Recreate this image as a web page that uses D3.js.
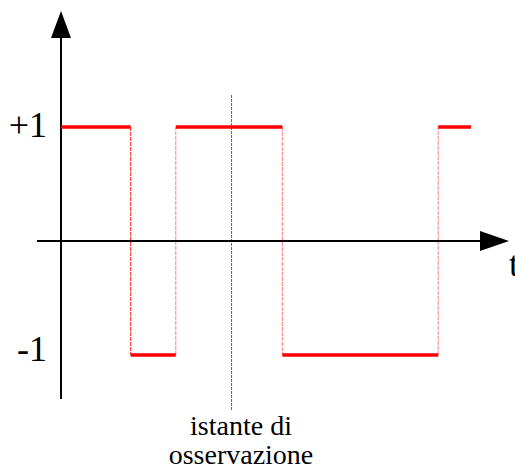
<!DOCTYPE html>
<html>
<head>
<meta charset="utf-8">
<script src="https://cdn.jsdelivr.net/npm/d3@7"></script>
<style>
  html, body { margin: 0; padding: 0; background: #fff; }
  svg { display: block; }
  text { font-family: "Liberation Serif", "Times New Roman", serif; fill: #000; }
</style>
</head>
<body>
<svg id="chart" width="515" height="468"></svg>
<script>
// switching instants (arbitrary time units) and the level held after each one
var times = [0, 17, 28, 54, 92, 100];
var levels = [1, -1, 1, -1, 1];
var levelLabels = ["+1", "-1"];
var levelTicks = [1, -1];
var observation = 41.6;
var obsLabel = ["istante di", "osservazione"];
var axisLabel = "t";

var svg = d3.select("#chart");

// scales
var x = d3.scaleLinear().domain([0, 100]).range([61, 471]);
var y = d3.scaleLinear().domain([-1, 1]).range([355, 127]);

// segments built from the data
var segs = levels.map(function(l, i){
	return {t0: times[i], t1: times[i + 1], level: l};
});

// vertical switching lines (thin, dashed pinkish)
var edges = [];
for (var i = 1; i < levels.length; i++) {
	edges.push({t: times[i], from: levels[i - 1], to: levels[i]});
}
svg.selectAll(".edge")
	.data(edges)
	.enter().append("line")
	.attr("class", "edge")
	.attr("x1", function(d){ return x(d.t); })
	.attr("x2", function(d){ return x(d.t); })
	.attr("y1", function(d){ return y(d.from); })
	.attr("y2", function(d){ return y(d.to); })
	.style("stroke", "#ff0000")
	.style("stroke-width", 1)
	.style("stroke-dasharray", "4,1")
	.style("opacity", function(d, i){ return i === 0 ? 0.9 : 0.5; });

// observation instant
svg.append("line")
	.attr("x1", x(observation)).attr("x2", x(observation))
	.attr("y1", 95).attr("y2", 410)
	.style("stroke", "#666")
	.style("stroke-width", 1)
	.style("stroke-dasharray", "3,1");

// axes
svg.append("line")
	.attr("x1", x(0)).attr("x2", x(0))
	.attr("y1", 36).attr("y2", 399)
	.style("stroke", "#000").style("stroke-width", 2);
svg.append("path")
	.attr("d", "M" + x(0) + ",11 L" + (x(0) - 10) + ",38 L" + (x(0) + 10) + ",38 Z")
	.style("fill", "#000");

svg.append("line")
	.attr("x1", 37).attr("x2", 482)
	.attr("y1", y(0)).attr("y2", y(0))
	.style("stroke", "#000").style("stroke-width", 2);
svg.append("path")
	.attr("d", "M509," + y(0) + " L480," + (y(0) - 10) + " L480," + (y(0) + 10) + " Z")
	.style("fill", "#000");

// signal levels
svg.selectAll(".seg")
	.data(segs)
	.enter().append("line")
	.attr("class", "seg")
	.attr("x1", function(d){ return x(d.t0); })
	.attr("x2", function(d){ return x(d.t1); })
	.attr("y1", function(d){ return y(d.level); })
	.attr("y2", function(d){ return y(d.level); })
	.style("stroke", "#ff0000")
	.style("stroke-width", 3.5);

// level labels
svg.selectAll(".lvl")
	.data(levelTicks)
	.enter().append("text")
	.attr("class", "lvl")
	.attr("x", 47)
	.attr("y", function(d){ return y(d) + (d > 0 ? 10 : 6); })
	.attr("text-anchor", "end")
	.style("font-size", "36px")
	.text(function(d, i){ return levelLabels[i]; });

svg.append("text")
	.attr("x", 509)
	.attr("y", y(0) + 35)
	.style("font-size", "36px")
	.text(axisLabel);

svg.selectAll(".obs")
	.data(obsLabel)
	.enter().append("text")
	.attr("class", "obs")
	.attr("x", 241)
	.attr("y", function(d, i){ return 435 + i * 29; })
	.attr("text-anchor", "middle")
	.style("font-size", "28px")
	.text(function(d){ return d; });
</script>
</body>
</html>
